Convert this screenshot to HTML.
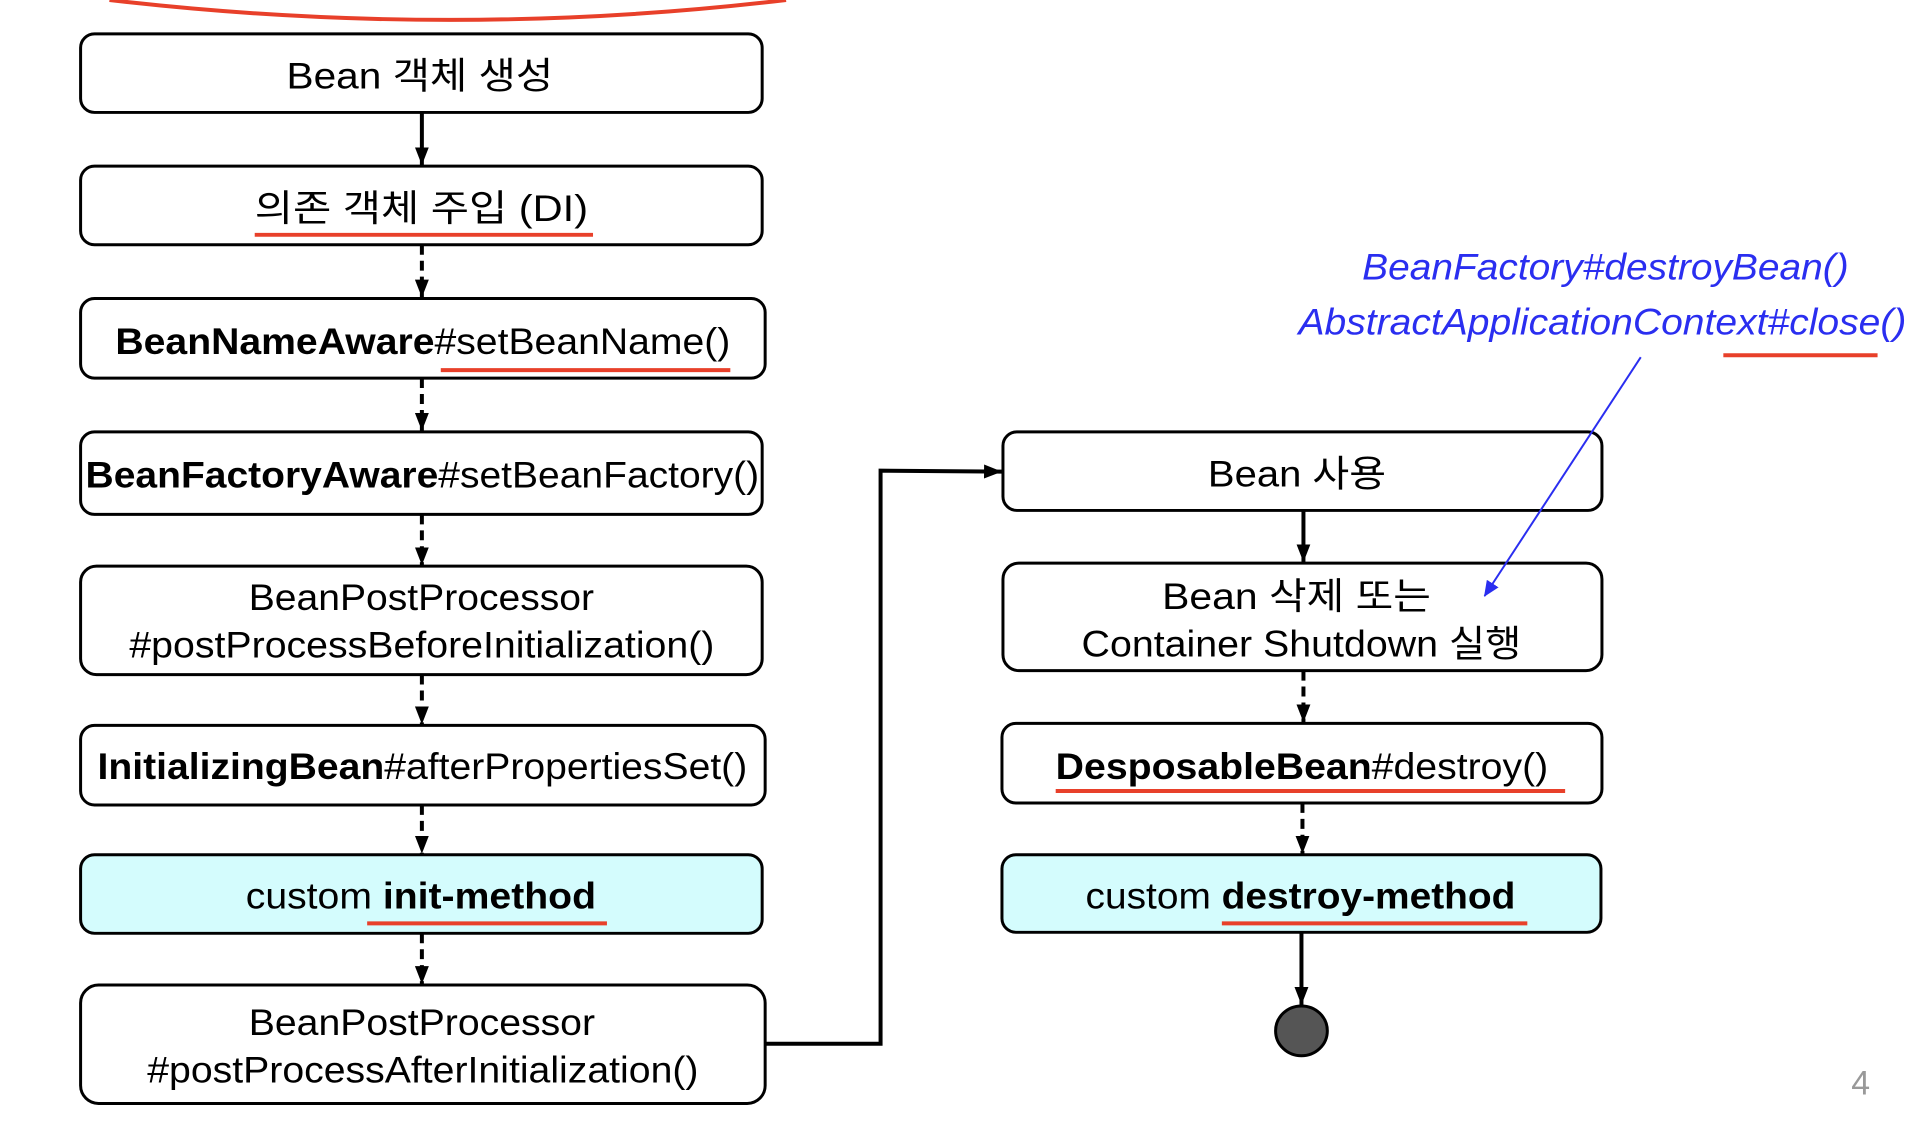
<!DOCTYPE html>
<html><head><meta charset="utf-8"><style>html,body{margin:0;padding:0;background:#fff}svg{display:block}</style></head><body>
<svg width="1920" height="1134" viewBox="0 0 1920 1134" xmlns="http://www.w3.org/2000/svg" font-family="'Liberation Sans','Noto Sans CJK KR',sans-serif">
<defs>
<marker id="ah" markerWidth="18" markerHeight="14" refX="18" refY="7" orient="auto" markerUnits="userSpaceOnUse" viewBox="0 0 18 14"><path d="M0,0 L18,7 L0,14 z" fill="#000"/></marker>
<marker id="ahb" markerWidth="16" markerHeight="14" refX="15" refY="7" orient="auto" markerUnits="userSpaceOnUse" viewBox="0 0 16 14"><path d="M0,0 L16,7 L0,14 z" fill="#2a2ef0"/></marker>
</defs>
<g transform="scale(0.995)">
<path d="M110,0 Q455,40 790,0" fill="none" stroke="#e8402a" stroke-width="4"/>
<g fill="#fff" stroke="#000" stroke-width="3">
<rect x="81" y="34" width="685" height="79" rx="14"/>
<rect x="81" y="167" width="685" height="79" rx="14"/>
<rect x="81" y="300" width="688" height="80" rx="14"/>
<rect x="81" y="434" width="685" height="83" rx="14"/>
<rect x="81" y="569" width="685" height="109" rx="16"/>
<rect x="81" y="729" width="688" height="80" rx="14"/>
<rect x="81" y="859" width="685" height="79" rx="14" fill="#d4fcfd"/>
<rect x="81" y="990" width="688" height="119" rx="18"/>
<rect x="1008" y="434" width="602" height="79" rx="14"/>
<rect x="1008" y="566" width="602" height="108" rx="16"/>
<rect x="1007" y="727" width="603" height="80" rx="14"/>
<rect x="1007" y="859" width="602" height="78" rx="14" fill="#d4fcfd"/>
</g>
<ellipse cx="1308" cy="1036" rx="26" ry="25" fill="#555" stroke="#000" stroke-width="3"/>
<g stroke="#000" stroke-width="4" fill="none">
<line x1="424" y1="113" x2="424" y2="166" marker-end="url(#ah)"/>
<g stroke-dasharray="10,6">
<line x1="424" y1="246" x2="424" y2="299" marker-end="url(#ah)"/>
<line x1="424" y1="380" x2="424" y2="433" marker-end="url(#ah)"/>
<line x1="424" y1="517" x2="424" y2="568" marker-end="url(#ah)"/>
<line x1="424" y1="678" x2="424" y2="728" marker-end="url(#ah)"/>
<line x1="424" y1="809" x2="424" y2="858" marker-end="url(#ah)"/>
<line x1="424" y1="938" x2="424" y2="989" marker-end="url(#ah)"/>
<line x1="1310" y1="674" x2="1310" y2="726" marker-end="url(#ah)"/>
<line x1="1309" y1="807" x2="1309" y2="858" marker-end="url(#ah)"/>
</g>
<line x1="1310" y1="513" x2="1310" y2="565" marker-end="url(#ah)"/>
<line x1="1308" y1="937" x2="1308" y2="1010" marker-end="url(#ah)"/>
<polyline points="769,1049 885,1049 885,473 1007,474" marker-end="url(#ah)"/>
</g>
<line x1="1649" y1="359" x2="1492" y2="599" stroke="#2a2ef0" stroke-width="2" marker-end="url(#ahb)"/>
<g font-size="37" fill="#000" text-anchor="start">
<text x="288" y="89" textLength="268" lengthAdjust="spacingAndGlyphs">Bean 객체 생성</text>
<text x="256" y="222" textLength="335" lengthAdjust="spacingAndGlyphs">의존 객체 주입 (DI)</text>
<text x="116" y="356" textLength="618" lengthAdjust="spacingAndGlyphs"><tspan font-weight="bold">BeanNameAware</tspan>#setBeanName()</text>
<text x="86" y="490" textLength="677" lengthAdjust="spacingAndGlyphs"><tspan font-weight="bold">BeanFactoryAware</tspan>#setBeanFactory()</text>
<text x="250" y="613" textLength="347" lengthAdjust="spacingAndGlyphs">BeanPostProcessor</text>
<text x="130" y="661" textLength="588" lengthAdjust="spacingAndGlyphs">#postProcessBeforeInitialization()</text>
<text x="98" y="783" textLength="653" lengthAdjust="spacingAndGlyphs"><tspan font-weight="bold">InitializingBean</tspan>#afterPropertiesSet()</text>
<text x="247" y="913" textLength="352" lengthAdjust="spacingAndGlyphs">custom <tspan font-weight="bold">init-method</tspan></text>
<text x="250" y="1040" textLength="348" lengthAdjust="spacingAndGlyphs">BeanPostProcessor</text>
<text x="148" y="1088" textLength="554" lengthAdjust="spacingAndGlyphs">#postProcessAfterInitialization()</text>
<text x="1214" y="489" textLength="179" lengthAdjust="spacingAndGlyphs">Bean 사용</text>
<text x="1168" y="612" textLength="270" lengthAdjust="spacingAndGlyphs">Bean 삭제 또는</text>
<text x="1087" y="660" textLength="442" lengthAdjust="spacingAndGlyphs">Container Shutdown 실행</text>
<text x="1061" y="783" textLength="495" lengthAdjust="spacingAndGlyphs"><tspan font-weight="bold">DesposableBean</tspan>#destroy()</text>
<text x="1091" y="913" textLength="432" lengthAdjust="spacingAndGlyphs">custom <tspan font-weight="bold">destroy-method</tspan></text>
</g>
<g font-size="37" fill="#2a2ef0" font-style="italic">
<text x="1369" y="281" textLength="489" lengthAdjust="spacingAndGlyphs">BeanFactory#destroyBean()</text>
<text x="1305" y="336" textLength="611" lengthAdjust="spacingAndGlyphs">AbstractApplicationContext#close()</text>
</g>
<g stroke="#e8402a" stroke-width="4">
<line x1="256" y1="236" x2="596" y2="236"/>
<line x1="443" y1="372" x2="734" y2="372"/>
<line x1="369" y1="928" x2="610" y2="928"/>
<line x1="1061" y1="795" x2="1573" y2="795"/>
<line x1="1228" y1="928" x2="1535" y2="928"/>
<line x1="1732" y1="357" x2="1887" y2="357"/>
</g>
<text x="1870" y="1100" font-size="34" fill="#999" text-anchor="middle">4</text>
</g>
</svg>
</body></html>
